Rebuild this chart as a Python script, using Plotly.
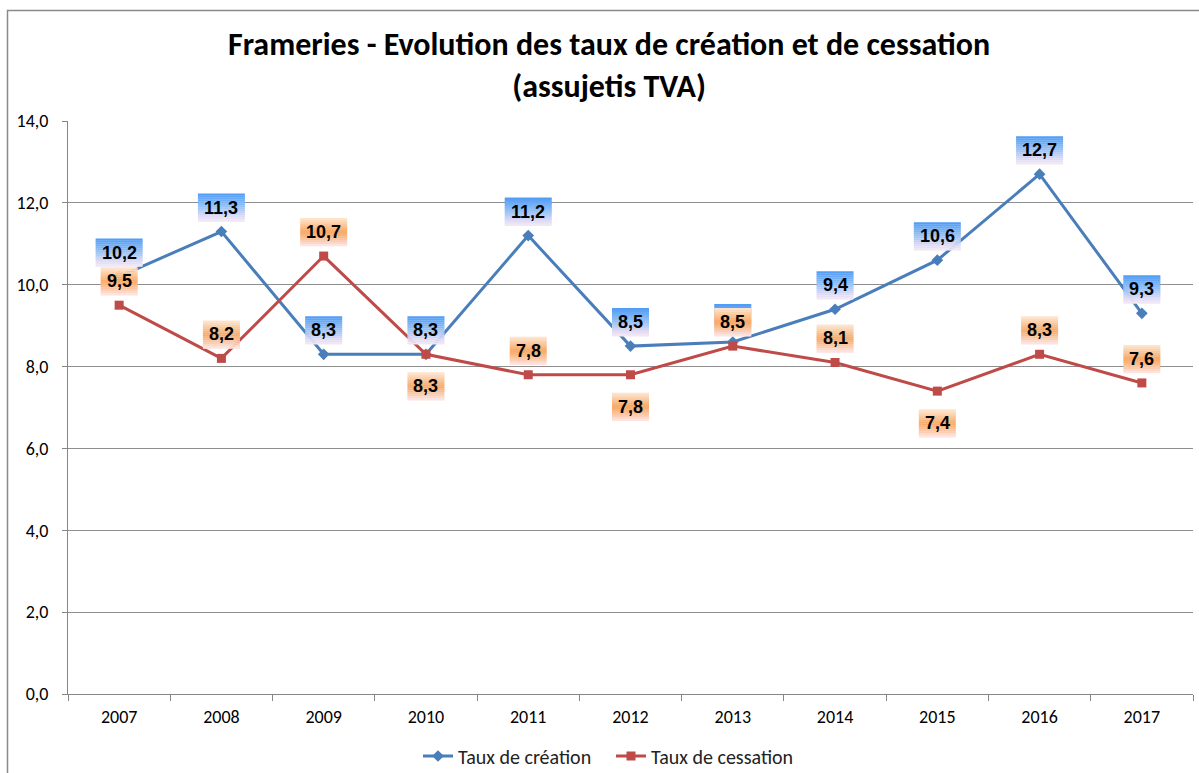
import plotly.graph_objects as go

years = ["2007", "2008", "2009", "2010", "2011", "2012", "2013", "2014", "2015", "2016", "2017"]
creation = [10.2, 11.3, 8.3, 8.3, 11.2, 8.5, 8.6, 9.4, 10.6, 12.7, 9.3]
cessation = [9.5, 8.2, 10.7, 8.3, 7.8, 7.8, 8.5, 8.1, 7.4, 8.3, 7.6]
# label placement: "a" above, "b" below
creation_pos = ["a"] * 11
cessation_pos = ["a", "a", "a", "b", "a", "b", "a", "a", "b", "a", "a"]
creation_hidden_text = ["2013"]  # covered by the cessation label in the original

W, H = 1199, 773
ML, MR, MT, MB = 68, 6, 121, 79
PW, PH = W - ML - MR, H - MT - MB

NARROW = "Carlito, Calibri, 'Liberation Sans Narrow', sans-serif"
BLUE = "#4a7ebb"
RED = "#be4b48"

fig = go.Figure()
fig.add_trace(go.Scatter(x=years, y=creation, mode="lines+markers", name="Taux de création",
                         line=dict(color=BLUE, width=3),
                         marker=dict(symbol="diamond", size=9, color=BLUE)))
fig.add_trace(go.Scatter(x=years, y=cessation, mode="lines+markers", name="Taux de cessation",
                         line=dict(color=RED, width=3),
                         marker=dict(symbol="square", size=9, color=RED)))

def hex2rgb(h):
    h = h.lstrip("#")
    return tuple(int(h[i:i + 2], 16) for i in (0, 2, 4))

def grad(stops, t):
    for (t0, c0), (t1, c1) in zip(stops, stops[1:]):
        if t0 <= t <= t1:
            f = (t - t0) / (t1 - t0) if t1 > t0 else 0
            a, b = hex2rgb(c0), hex2rgb(c1)
            return "rgb(%d,%d,%d)" % tuple(round(a[i] + (b[i] - a[i]) * f) for i in range(3))
    return stops[-1][1]

BLUE_STOPS = [(0, "#4e9af6"), (0.45, "#90c0f6"), (0.8, "#dad9f6"), (1, "#f6e9f4")]
ORANGE_STOPS = [(0, "#fde8d4"), (0.5, "#f8a865"), (0.78, "#fbc8a6"), (1, "#fde7ea")]

shapes = []
annotations = []
BOX_H = 28
NSTRIP = 14

def add_label(cat, y, pos, stops, show_text=True):
    xi = years.index(cat)  # category position on the axis
    text = ("%.1f" % y).replace(".", ",")
    w = 47 if len(text) >= 4 else 37
    if pos == "a":
        y_bot, y_top = 10, 10 + BOX_H
    else:
        y_top, y_bot = -18, -18 - BOX_H
    sh = BOX_H / NSTRIP
    for i in range(NSTRIP):
        top = y_top - i * sh
        shapes.append(dict(type="rect", xref="x", yref="y", xsizemode="pixel", ysizemode="pixel",
                           xanchor=xi, yanchor=y, x0=-w / 2, x1=w / 2, y0=top - sh - 0.3, y1=top,
                           fillcolor=grad(stops, (i + 0.5) / NSTRIP), line=dict(width=0), layer="above"))
    if show_text:
        annotations.append(dict(x=xi, y=y, xref="x", yref="y", text="<b>%s</b>" % text, showarrow=False,
                                yshift=(y_bot + y_top) / 2,
                                font=dict(family="'Liberation Sans', Arial, sans-serif", size=18, color="black")))

for x, y, p in zip(years, creation, creation_pos):
    add_label(x, y, p, BLUE_STOPS, show_text=x not in creation_hidden_text)
for x, y, p in zip(years, cessation, cessation_pos):
    add_label(x, y, p, ORANGE_STOPS)

# outer chart frame
shapes.append(dict(type="rect", xref="paper", yref="paper",
                   x0=(7.5 - ML) / PW, x1=(W + 5 - ML) / PW,
                   y0=(H - MB - (H + 5)) / PH, y1=(H - MB - 10.5) / PH,
                   line=dict(color="#8a8a8a", width=1.5), fillcolor="rgba(0,0,0,0)", layer="below"))

annotations.append(dict(xref="paper", yref="paper", x=(609 - ML) / PW,
                        y=(H - MB - 65) / PH, yanchor="middle", xanchor="center", showarrow=False,
                        text="<b>Frameries - Evolution des taux de création et de cessation<br>(assujetis TVA)</b>",
                        font=dict(family=NARROW, size=32, color="black")))

fig.update_layout(
    width=W, height=H,
    margin=dict(l=ML, r=MR, t=MT, b=MB, autoexpand=False),
    paper_bgcolor="white", plot_bgcolor="white",
    separators=", ",
    showlegend=True,
    legend=dict(orientation="h", x=(611 - ML) / PW, xanchor="center", y=(H - MB - 756) / PH, yanchor="middle",
                font=dict(family=NARROW, size=20, color="#222"), entrywidth=148),
    shapes=shapes, annotations=annotations,
    xaxis=dict(type="category", range=[-0.5, 10.5], showgrid=False, showline=True, linecolor="#868686",
               linewidth=1, ticks="outside", tickson="boundaries", ticklen=6, tickcolor="#868686",
               ticklabelstandoff=6, tickangle=0,
               tickfont=dict(family=NARROW, size=18, color="black")),
    yaxis=dict(range=[0, 14], dtick=2, tickformat=".1f", showgrid=True, gridcolor="#8e8e8e", gridwidth=1,
               showline=True, linecolor="#868686", linewidth=1, ticks="outside", ticklen=5,
               tickcolor="#868686", zeroline=False, ticklabelstandoff=10,
               tickfont=dict(family=NARROW, size=18, color="black")),
)

fig.write_html("out.html", config={"displayModeBar": False},
               post_script="document.body.style.margin='0';document.body.style.overflow='hidden';")
